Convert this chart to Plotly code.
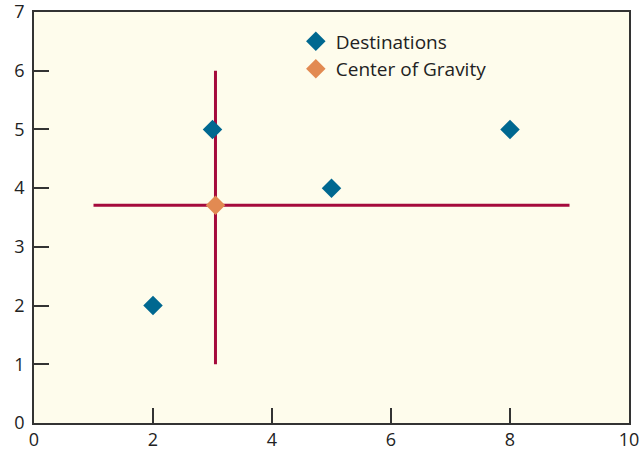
import plotly.graph_objects as go

# Destinos
dest_x = [2, 3, 5, 8]
dest_y = [2, 5, 4, 5]

# Centro de gravedad
cog_x = [3.05]
cog_y = [3.71]

# Líneas de referencia
h_line_x = [1, 9]
h_line_y = [3.71, 3.71]
v_line_x = [3.05, 3.05]
v_line_y = [1, 6]

red = '#a50a3c'

fig = go.Figure()
fig.add_trace(go.Scatter(x=h_line_x, y=h_line_y, mode='lines', line=dict(color=red, width=3),
                         showlegend=False, hoverinfo='skip'))
fig.add_trace(go.Scatter(x=v_line_x, y=v_line_y, mode='lines', line=dict(color=red, width=3),
                         showlegend=False, hoverinfo='skip'))
fig.add_trace(go.Scatter(x=dest_x, y=dest_y, mode='markers', name='Destinations',
                         marker=dict(symbol='diamond', size=15, color='#006890')))
fig.add_trace(go.Scatter(x=cog_x, y=cog_y, mode='markers', name='Center of Gravity',
                         marker=dict(symbol='diamond', size=15, color='#e28a52')))

axis_style = dict(showgrid=False, zeroline=False, showline=True, linecolor='#333333', linewidth=1.5,
                  mirror=True, ticks='inside', ticklen=15, tickcolor='#333333', tickwidth=1.5,
                  automargin=False, ticklabeloverflow='allow',
                  tickfont=dict(size=18, color='#222222'))

fig.update_xaxes(range=[0, 10], dtick=2, **axis_style)
fig.update_yaxes(range=[0, 7], dtick=1, ticklabelstandoff=4, **axis_style)

fig.update_layout(width=642, height=456,
                  margin=dict(l=34, r=13, t=12, b=33),
                  plot_bgcolor='#fefcec', paper_bgcolor='white',
                  font=dict(family='Open Sans, sans-serif'),
                  legend=dict(x=0.44, y=0.975, xanchor='left', yanchor='top',
                              bgcolor='rgba(0,0,0,0)', font=dict(size=19, color='#222222'),
                              itemwidth=30, tracegroupgap=0))

fig.write_html("out.html", config={'displayModeBar': False},
               post_script="document.body.style.margin='0';")
